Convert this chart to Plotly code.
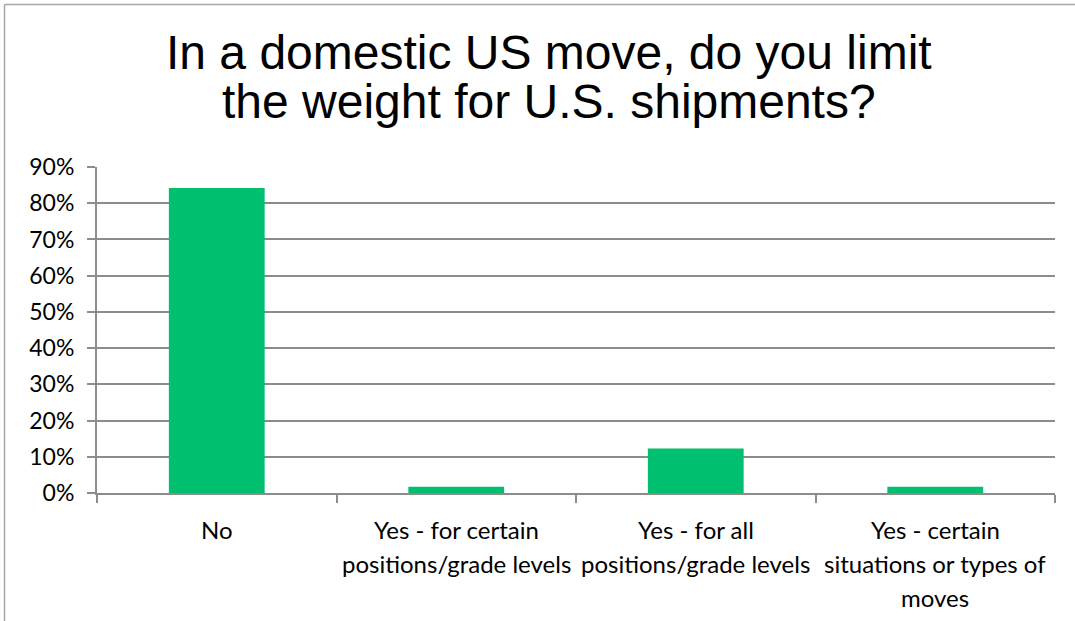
import plotly.graph_objects as go

# Survey responses: share of respondents per answer
categories = [
    "No",
    "Yes - for certain<br>positions/grade levels",
    "Yes - for all<br>positions/grade levels",
    "Yes - certain<br>situations or types of<br>moves",
]
shares = [0.842, 0.0175, 0.123, 0.0175]
y_ticks = [0, 0.1, 0.2, 0.3, 0.4, 0.5, 0.6, 0.7, 0.8, 0.9]
y_tick_text = ["0%", "10%", "20%", "30%", "40%", "50%", "60%", "70%", "80%", "90%"]
title_lines = ["In a domestic US move, do you limit", "the weight for U.S. shipments?"]

W, H = 1075, 621
ML, MR, MT, MB = 97, 20, 167, 128
GRID = "#8c8c8c"
GREEN = "#00bf6f"
LABEL_FAMILY = "Lato, Open Sans, sans-serif"

pw = W - ML - MR
ph = H - MT - MB


def px_x(v):
    return (v - ML) / pw


def px_y(v):
    return (H - MB - v) / ph


fig = go.Figure(
    go.Bar(x=categories, y=shares, marker=dict(color=GREEN, line=dict(width=0)))
)

# outer chart frame (left and top edges visible)
fig.add_shape(type="line", xref="paper", yref="paper",
              x0=px_x(4.5), x1=px_x(W + 5), y0=px_y(4.5), y1=px_y(4.5),
              line=dict(color="#a6a6a6", width=1.5))
fig.add_shape(type="line", xref="paper", yref="paper",
              x0=px_x(4.5), x1=px_x(4.5), y0=px_y(4.5), y1=px_y(H + 5),
              line=dict(color="#a6a6a6", width=1.5))

# two-line title with tight line spacing
for i, line in enumerate(title_lines):
    fig.add_annotation(
        text=line, xref="paper", yref="paper",
        x=px_x(549), y=px_y(52 + 49 * i),
        xanchor="center", yanchor="middle", showarrow=False,
        font=dict(family="Liberation Sans, Arial, sans-serif", size=48, color="#000000"),
    )

# category labels, one line at a time under each bar
for cat in categories:
    for j, part in enumerate(cat.split("<br>")):
        fig.add_annotation(
            text=part, xref="x", yref="paper",
            x=cat, y=px_y(529 + 34 * j),
            xanchor="center", yanchor="middle", showarrow=False,
            font=dict(family=LABEL_FAMILY, size=24, color="#000000"),
        )

fig.update_layout(
    width=W, height=H,
    margin=dict(l=ML, r=MR, t=MT, b=MB),
    paper_bgcolor="white", plot_bgcolor="white",
    bargap=0.6,
    showlegend=False,
    xaxis=dict(
        type="category",
        showline=True, linecolor=GRID, linewidth=2,
        ticks="outside", tickson="boundaries", ticklen=8, tickcolor=GRID, tickwidth=2,
        showgrid=False,
        showticklabels=False,
    ),
    yaxis=dict(
        range=[0, 0.9],
        tickvals=y_ticks, ticktext=y_tick_text,
        showgrid=True, gridcolor=GRID, gridwidth=2,
        showline=True, linecolor=GRID, linewidth=2,
        ticks="outside", ticklen=8, tickcolor=GRID, tickwidth=2,
        tickfont=dict(family=LABEL_FAMILY, size=23, color="#000000"),
        ticklabelstandoff=8,
        zeroline=False,
    ),
)

fig.write_html("out.html")
